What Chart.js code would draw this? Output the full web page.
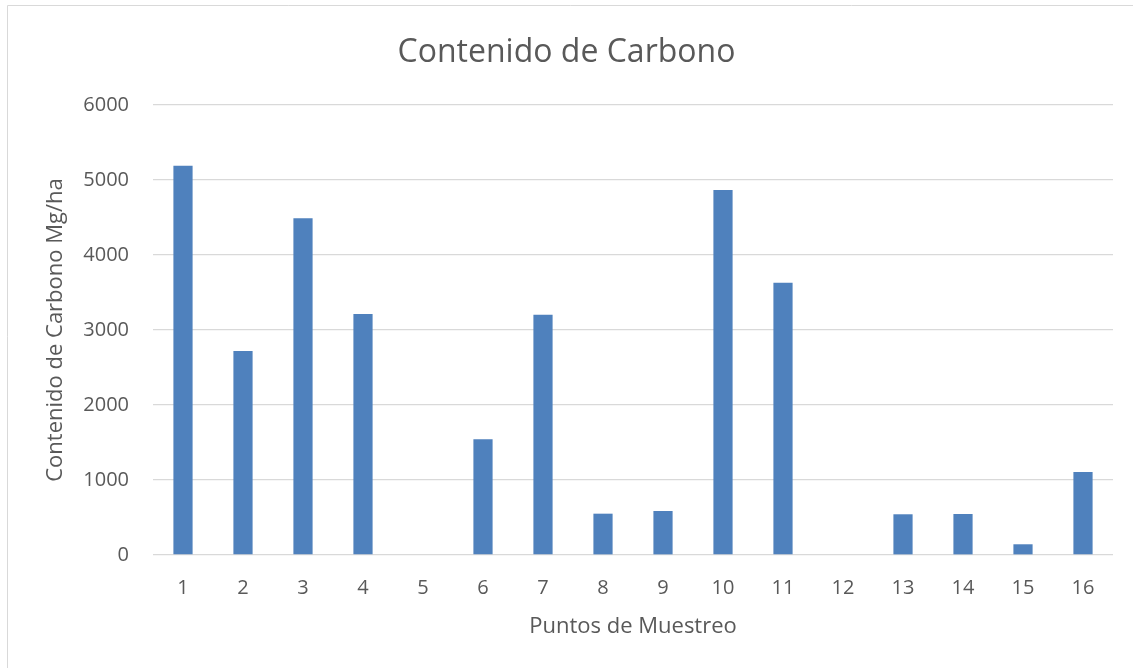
<!DOCTYPE html>
<html>
<head>
<meta charset="utf-8">
<title>Contenido de Carbono</title>
<script src="https://cdn.jsdelivr.net/npm/chart.js@4.4.1/dist/chart.umd.min.js"></script>
<style>
  html, body { margin: 0; padding: 0; background: #ffffff; }
  #wrap { position: relative; width: 1133px; height: 668px; }
</style>
</head>
<body>
<div id="wrap"><canvas id="chart" width="1133" height="668"></canvas></div>
<script>
// Sampling points and their carbon content (Mg/ha)
const puntos = ['1','2','3','4','5','6','7','8','9','10','11','12','13','14','15','16'];
const carbono = [5190, 2720, 4490, 3215, 0, 1543, 3205, 551, 587, 4867, 3630, 0, 543, 547, 143, 1107];
const yTicks = [0, 1000, 2000, 3000, 4000, 5000, 6000];

const textColor = '#595959';
const gridColor = '#d9d9d9';
const fontFamily = '"Open Sans", "Liberation Sans", sans-serif';

// Thin frame along the top and left edges of the chart panel
const framePlugin = {
  id: 'frame',
  beforeDraw(chart) {
    const ctx = chart.ctx;
    ctx.save();
    ctx.strokeStyle = gridColor;
    ctx.lineWidth = 1;
    ctx.beginPath();
    ctx.moveTo(7.5, chart.height);
    ctx.lineTo(7.5, 5.5);
    ctx.lineTo(chart.width, 5.5);
    ctx.stroke();
    ctx.restore();
  }
};

new Chart(document.getElementById('chart'), {
  type: 'bar',
  data: {
    labels: puntos,
    datasets: [{
      label: 'Contenido de Carbono',
      data: carbono,
      backgroundColor: '#4f81bd',
      borderWidth: 0,
      barPercentage: 0.32,
      categoryPercentage: 1.0
    }]
  },
  options: {
    responsive: false,
    animation: false,
    layout: { padding: { left: 0, right: 0, top: 0, bottom: 0 } },
    plugins: {
      legend: { display: false },
      tooltip: { enabled: false },
      title: {
        display: true,
        text: 'Contenido de Carbono',
        color: textColor,
        font: { family: fontFamily, size: 32, weight: 'normal' },
        padding: { top: 34, bottom: 32.6 }
      }
    },
    scales: {
      x: {
        grid: { display: false, drawTicks: false },
        border: { display: false },
        ticks: {
          color: textColor,
          font: { family: fontFamily, size: 20 },
          padding: 21,
          maxRotation: 0,
          autoSkip: false
        },
        title: {
          display: true,
          text: 'Puntos de Muestreo',
          color: textColor,
          font: { family: fontFamily, size: 22 },
          padding: { top: 0, bottom: 28 }
        },
        afterFit(scale) { scale.height = 113; }
      },
      y: {
        min: 0,
        max: 6000,
        afterBuildTicks(scale) { scale.ticks = yTicks.map(v => ({ value: v })); },
        grid: { color: gridColor, lineWidth: 1.3, drawTicks: false },
        border: { display: false },
        ticks: {
          color: textColor,
          font: { family: fontFamily, size: 20 },
          padding: 24,
          callback: (v) => String(v)
        },
        title: {
          display: true,
          text: 'Contenido de Carbono Mg/ha',
          color: textColor,
          font: { family: fontFamily, size: 22 },
          padding: { top: 43, bottom: 0 }
        },
        afterFit(scale) { scale.width = 153; }
      },
      // Empty right-hand margin of the plot
      yRight: {
        position: 'right',
        min: 0,
        max: 6000,
        grid: { display: false, drawTicks: false },
        border: { display: false },
        ticks: { display: false },
        afterFit(scale) { scale.width = 20; }
      }
    }
  },
  plugins: [framePlugin]
});
</script>
</body>
</html>
